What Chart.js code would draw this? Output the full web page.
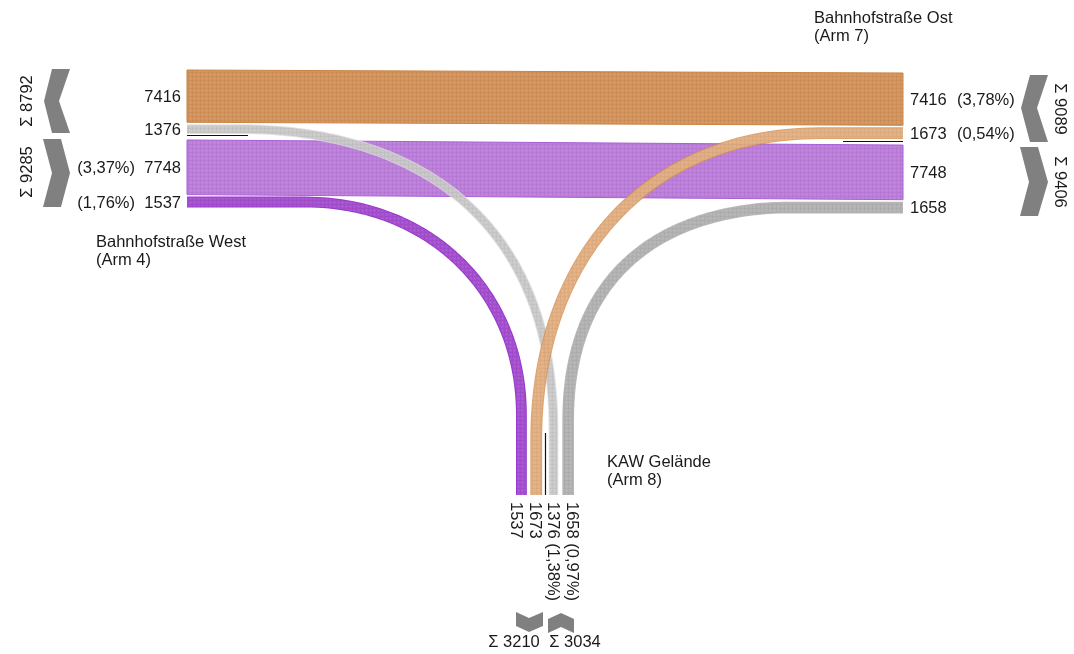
<!DOCTYPE html>
<html>
<head>
<meta charset="utf-8">
<script src="https://cdn.jsdelivr.net/npm/chart.js@4.4.0/dist/chart.umd.min.js"></script>
<style>
  html, body { margin: 0; background: #fff; }
  #wrap { width: 1074px; height: 654px; }
</style>
</head>
<body>
<div id="wrap"><canvas id="flowChart"></canvas></div>
<script>
// ==============================
// DATA
// ==============================
const armNames = ["Bahnhofstraße West", "Bahnhofstraße Ost", "KAW Gelände"];
const armNumbers = [4, 7, 8];

// flows (from arm -> to arm), 0 = West, 1 = Ost, 2 = KAW
const flowFrom = [0, 0, 1, 2, 2, 1];
const flowTo = [1, 2, 0, 0, 1, 2];
const flowValues = [7416, 1376, 7748, 1537, 1673, 1658];
// heavy vehicle share, shown at the destination arm
const flowShares = ["3,78", "1,38", "3,37", "1,76", "0,54", "0,97"];

const flowFill = ["#d8955a", "#c6c6c6", "#c07fe0", "#a950d6", "#e6b488", "#b3b3b3"];
const flowEdge = ["#c98443", "#dcdcdc", "#a95fd6", "#9838cc", "#d68e4f", "#a8a8a8"];

// ==============================
// LAYOUT (pixel-like units of the hidden scales)
// ==============================
const K = 0.00705;          // units per vehicle
const xWest = 187, xOst = 903, yKaw = 495;
const westTop = 70, ostTop = 73, kawLeft = 516;
// stacking order at each arm end
const westOrder = [0, 1, 2, 3];
const ostOrder = [0, 4, 2, 5];
const kawOrder = [3, 4, 1, 5];
const gaps = [2, 6, 2];

function stack(order, start, gapList) {
    const pos = {};
    let p = start;
    order.forEach((f, i) => {
        const w = flowValues[f] * K;
        pos[f] = { a: p, b: p + w, c: p + w / 2, w: w };
        p += w + (gapList[i] || 0);
    });
    return pos;
}

const westPos = stack(westOrder, westTop, gaps);
const ostPos = stack(ostOrder, ostTop, gaps);
const kawPos = stack(kawOrder, kawLeft, [3.5, 6.5, 4]);

function bez(p0, p1, p2, p3, n) {
    const pts = [];
    for (let i = 0; i <= n; i++) {
        const t = i / n, u = 1 - t;
        pts.push([
            u * u * u * p0[0] + 3 * u * u * t * p1[0] + 3 * u * t * t * p2[0] + t * t * t * p3[0],
            u * u * u * p0[1] + 3 * u * u * t * p1[1] + 3 * u * t * t * p2[1] + t * t * t * p3[1]
        ]);
    }
    return pts;
}

function curveFor(f) {
    if (f === 1) {
        const c = westPos[1].c, x = kawPos[1].c;
        return [[xWest, c]].concat(bez([240, c], [405, c], [x, 210], [x, 430], 60), [[x, yKaw]]);
    }
    if (f === 3) {
        const c = westPos[3].c, x = kawPos[3].c;
        return [[xWest, c]].concat(bez([305, c], [428, c], [x, 290], [x, 415], 60), [[x, yKaw]]);
    }
    if (f === 4) {
        const c = ostPos[4].c, x = kawPos[4].c;
        return [[x, yKaw]].concat(bez([x, 440], [x, 255], [650, c], [820, c], 60), [[xOst, c]]);
    }
    const c = ostPos[5].c, x = kawPos[5].c;
    return [[xOst, c]].concat(bez([790, c], [680, c], [x, 260], [x, 420], 60), [[x, yKaw]]);
}

// ==============================
// TEXTURE
// ==============================
function makePattern(ctx) {
    const t = document.createElement("canvas");
    t.width = 4; t.height = 4;
    const g = t.getContext("2d");
    g.fillStyle = "rgba(0,0,0,0.04)";
    g.fillRect(0, 0, 4, 1);
    g.fillRect(0, 0, 1, 4);
    g.fillStyle = "rgba(255,255,255,0.12)";
    g.fillRect(2, 2, 1, 1);
    return ctx.createPattern(t, "repeat");
}

// ==============================
// DRAW PLUGIN
// ==============================
const flowPlugin = {
    id: "flowPlugin",
    afterDraw(chart) {
        const ctx = chart.ctx;
        const xs = chart.scales.x, ys = chart.scales.y;
        const X = v => xs.getPixelForValue(v);
        const Y = v => ys.getPixelForValue(v);
        const unit = Math.abs(X(1) - X(0));
        const pat = makePattern(ctx);
        ctx.save();

        // straight bands West <-> Ost
        [0, 2].forEach(f => {
            const l = westPos[f], r = ostPos[f];
            ctx.beginPath();
            ctx.moveTo(X(xWest), Y(l.a));
            ctx.lineTo(X(xOst), Y(r.a));
            ctx.lineTo(X(xOst), Y(r.b));
            ctx.lineTo(X(xWest), Y(l.b));
            ctx.closePath();
            ctx.fillStyle = flowFill[f];
            ctx.fill();
            ctx.fillStyle = pat;
            ctx.fill();
            ctx.lineWidth = 1;
            ctx.strokeStyle = flowEdge[f];
            ctx.stroke();
        });

        // curved bands
        [1, 3, 4, 5].forEach(f => {
            const pts = curveFor(f);
            const w = flowValues[f] * K * unit;
            ctx.globalAlpha = f === 3 ? 1 : 0.82;
            ctx.lineCap = "butt";
            ctx.lineJoin = "round";
            ctx.beginPath();
            pts.forEach((p, i) => i ? ctx.lineTo(X(p[0]), Y(p[1])) : ctx.moveTo(X(p[0]), Y(p[1])));
            ctx.lineWidth = w;
            ctx.strokeStyle = flowEdge[f];
            ctx.stroke();
            ctx.lineWidth = w - 2;
            ctx.strokeStyle = flowFill[f];
            ctx.stroke();
            ctx.strokeStyle = pat;
            ctx.stroke();
        });
        ctx.globalAlpha = 1;

        // thin black reference lines
        ctx.strokeStyle = "#111";
        ctx.lineWidth = 1.2;
        ctx.beginPath();
        ctx.moveTo(X(xWest), Y(135.5)); ctx.lineTo(X(248), Y(135.5));
        ctx.moveTo(X(843), Y(141.5)); ctx.lineTo(X(xOst), Y(141.5));
        ctx.moveTo(X(545.5), Y(433)); ctx.lineTo(X(545.5), Y(yKaw));
        ctx.stroke();

        // chevrons
        ctx.fillStyle = "#808080";
        const poly = pts => {
            ctx.beginPath();
            pts.forEach((p, i) => i ? ctx.lineTo(X(p[0]), Y(p[1])) : ctx.moveTo(X(p[0]), Y(p[1])));
            ctx.closePath();
            ctx.fill();
        };
        poly([[52, 69], [70, 69], [59, 101], [70, 133], [52, 133], [44, 101]]);
        poly([[43, 139], [61, 139], [70, 173], [61, 207], [43, 207], [52, 173]]);
        poly([[1030, 75], [1048, 75], [1037, 108], [1048, 142], [1030, 142], [1021, 108]]);
        poly([[1020, 147], [1038, 147], [1048, 182], [1038, 216], [1020, 216], [1029, 182]]);
        poly([[516, 612], [529, 618], [543, 612], [543, 626], [529, 632], [516, 626]]);
        poly([[548, 619], [561, 613], [574, 619], [574, 633], [561, 627], [548, 633]]);

        // texts
        ctx.fillStyle = "#1a1a1a";
        ctx.font = "16.5px 'Liberation Sans', Arial, sans-serif";
        const txt = (s, x, y, align) => {
            ctx.textAlign = align || "left";
            ctx.textBaseline = "middle";
            ctx.fillText(s, X(x), Y(y));
        };
        const rot = (s, x, y, ang, align) => {
            ctx.save();
            ctx.translate(X(x), Y(y));
            ctx.rotate(ang);
            ctx.textAlign = align || "center";
            ctx.textBaseline = "middle";
            ctx.fillText(s, 0, 0);
            ctx.restore();
        };
        const sum = list => list.reduce((s, f) => s + flowValues[f], 0);
        const pct = f => "(" + flowShares[f] + "%)";

        // West side
        westOrder.forEach(f => {
            const y = westPos[f].c + 1;
            txt(String(flowValues[f]), 181, y, "right");
            if (flowTo[f] === 0) txt(pct(f), 135, y, "right");
        });
        rot("Σ " + sum([0, 1]), 27, 101, -Math.PI / 2);
        rot("Σ " + sum([2, 3]), 27, 172, -Math.PI / 2);

        // Ost side
        ostOrder.forEach(f => {
            const y = ostPos[f].c + 1;
            txt(String(flowValues[f]), 910, y);
            if (flowTo[f] === 1) txt(pct(f), 957, y);
        });
        rot("Σ " + sum([0, 4]), 1060, 109, Math.PI / 2);
        rot("Σ " + sum([2, 5]), 1060, 182, Math.PI / 2);

        // KAW side, labels on an even pitch below the bands
        kawOrder.forEach((f, i) => {
            let s = String(flowValues[f]);
            if (flowTo[f] === 2) s += " " + pct(f);
            rot(s, 515.5 + i * 18.6, 502, Math.PI / 2, "left");
        });
        txt("Σ " + sum([3, 4]), 514, 642, "center");
        txt("Σ " + sum([1, 5]), 575, 642, "center");

        // arm names
        ctx.textBaseline = "alphabetic";
        ctx.textAlign = "left";
        const arm = (i, x, y) => {
            ctx.fillText(armNames[i], X(x), Y(y));
            ctx.fillText("(Arm " + armNumbers[i] + ")", X(x), Y(y + 18));
        };
        arm(0, 96, 247);
        arm(1, 814, 23);
        arm(2, 607, 467);

        ctx.restore();
    }
};

// ==============================
// CHART
// ==============================
document.addEventListener("DOMContentLoaded", () => {
    new Chart(document.getElementById("flowChart"), {
        type: "scatter",
        data: { datasets: [{ data: [], showLine: false }] },
        options: {
            responsive: true,
            maintainAspectRatio: false,
            animation: false,
            layout: { padding: 0 },
            plugins: { legend: { display: false }, tooltip: { enabled: false } },
            scales: {
                x: { type: "linear", min: 0, max: 1074, display: false },
                y: { type: "linear", min: 0, max: 654, reverse: true, display: false }
            }
        },
        plugins: [flowPlugin]
    });
});
</script>
</body>
</html>
